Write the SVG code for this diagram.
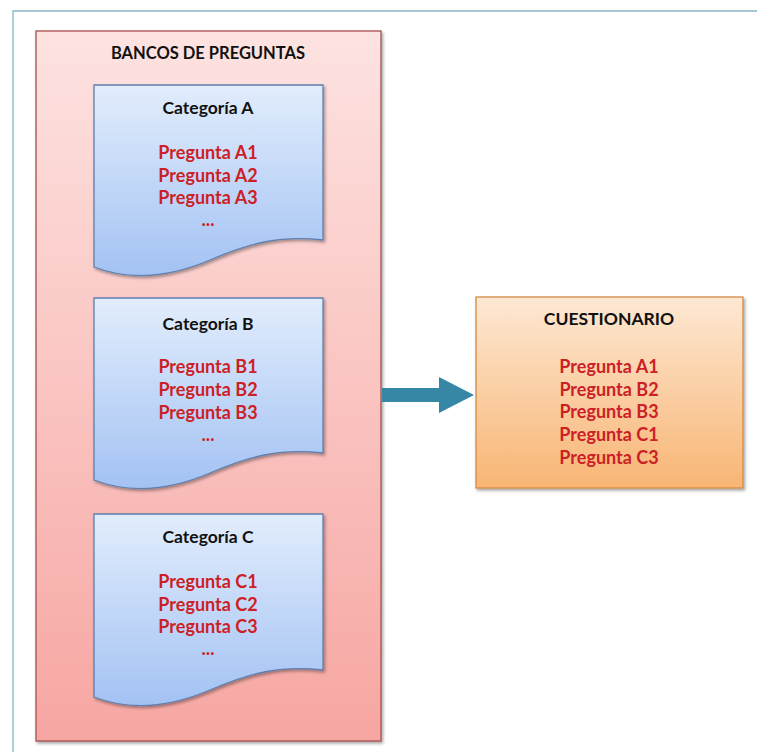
<svg xmlns="http://www.w3.org/2000/svg" width="757" height="752" viewBox="0 0 757 752">
<style>
.t{font-family:Lato,"Open Sans","Liberation Sans",sans-serif;font-weight:bold;text-anchor:middle;}
.ti{fill:#111111;font-size:16.5px;}
.h{fill:#111111;font-size:17.5px;}
.q{fill:#cc1f27;font-size:18px;}
.doc{fill:url(#gBlue);stroke:#5f7fae;stroke-width:1.3;filter:url(#sh);}
</style>
<defs>
<linearGradient id="gRed" x1="0" y1="0" x2="0" y2="1">
<stop offset="0" stop-color="#fde3e1"/><stop offset="1" stop-color="#f7a6a2"/>
</linearGradient>
<linearGradient id="gBlue" x1="0" y1="0" x2="0" y2="1">
<stop offset="0" stop-color="#e2edfc"/><stop offset="1" stop-color="#a3c2f3"/>
</linearGradient>
<linearGradient id="gOr" x1="0" y1="0" x2="0" y2="1">
<stop offset="0" stop-color="#fde8d3"/><stop offset="1" stop-color="#f8b574"/>
</linearGradient>
<filter id="sh" x="-10%" y="-10%" width="125%" height="125%">
<feDropShadow dx="1.5" dy="2" stdDeviation="1.6" flood-color="#000" flood-opacity="0.35"/>
</filter>
</defs>
<rect width="757" height="752" fill="#ffffff"/>
<g id="frame">
<path d="M13,752 V11 H757" fill="none" stroke="#86b6c8" stroke-width="1.3"/>
</g>
<g id="bancos">
<rect x="36" y="31" width="345" height="710" fill="url(#gRed)" stroke="#a5504d" stroke-width="1.3" filter="url(#sh)"/>
<text class="t ti" x="208" y="59">BANCOS DE PREGUNTAS</text>
</g>
<g id="catA">
<path class="doc" d="M94,85 H323 V240 C280,235 250,243 210,260 C170,277 130,281 94,267 Z"/>
<text class="t h" x="208" y="114">Categoría A</text>
<text class="t q" x="208" y="159">Pregunta A1</text>
<text class="t q" x="208" y="182">Pregunta A2</text>
<text class="t q" x="208" y="204">Pregunta A3</text>
<text class="t q" x="208" y="226">...</text>
</g>
<g id="catB">
<path class="doc" d="M94,298 H323 V453 C280,448 250,456 210,473 C170,490 130,494 94,480 Z"/>
<text class="t h" x="208" y="330">Categoría B</text>
<text class="t q" x="208" y="373">Pregunta B1</text>
<text class="t q" x="208" y="396">Pregunta B2</text>
<text class="t q" x="208" y="419">Pregunta B3</text>
<text class="t q" x="208" y="441">...</text>
</g>
<g id="catC">
<path class="doc" d="M94,514 H323 V670 C280,665 250,673 210,690 C170,707 130,711 94,697 Z"/>
<text class="t h" x="208" y="543">Categoría C</text>
<text class="t q" x="208" y="588">Pregunta C1</text>
<text class="t q" x="208" y="611">Pregunta C2</text>
<text class="t q" x="208" y="633">Pregunta C3</text>
<text class="t q" x="208" y="655">...</text>
</g>
<g id="cuestionario">
<rect x="476" y="297" width="267" height="191" fill="url(#gOr)" stroke="#d48b45" stroke-width="1.3" filter="url(#sh)"/>
<text class="t h" x="609" y="325">CUESTIONARIO</text>
<text class="t q" x="609" y="373">Pregunta A1</text>
<text class="t q" x="609" y="396">Pregunta B2</text>
<text class="t q" x="609" y="418">Pregunta B3</text>
<text class="t q" x="609" y="441">Pregunta C1</text>
<text class="t q" x="609" y="464">Pregunta C3</text>
</g>
<g id="connectors">
<path d="M382,388 H439 V377 L474,395 L439,413 V402 H382 Z" fill="#3687a5"/>
</g>
</svg>
